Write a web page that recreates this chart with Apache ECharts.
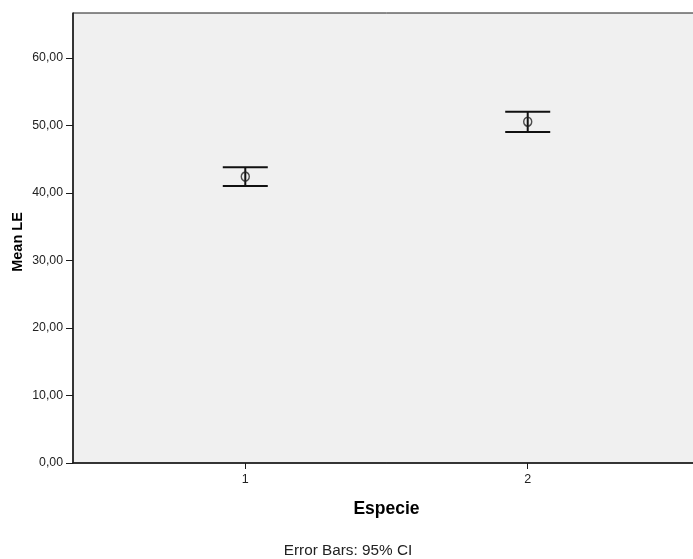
<!DOCTYPE html>
<html>
<head>
<meta charset="utf-8">
<script src="https://cdn.jsdelivr.net/npm/echarts@6/dist/echarts.min.js"></script>
<style>
  html, body { margin: 0; padding: 0; background: #fff; overflow: hidden; }
  #chart { width: 701px; height: 559px; }
</style>
</head>
<body>
<div id="chart"></div>
<script>
// Mean LE per species with 95% confidence intervals
const especie = [1, 2];
const meanLE = [42.42, 50.55];
const ciLower = [41.04, 49.01];
const ciUpper = [43.81, 52.03];
const yTicks = [0, 10, 20, 30, 40, 50, 60];

const chart = echarts.init(document.getElementById('chart'));

const barData = especie.map((e, i) => [e, ciLower[i], ciUpper[i]]);
const meanData = especie.map((e, i) => [e, meanLE[i]]);

const fmt = v => v.toFixed(2).replace('.', ',');
const font = 'Liberation Sans, Arial, sans-serif';

chart.setOption({
  animation: false,
  textStyle: { fontFamily: font },
  grid: {
    left: 73, top: 13, right: 1, bottom: 96,
    outerBoundsMode: 'none',
    show: true,
    backgroundColor: '#f0f0f0',
    borderColor: '#1a1a1a',
    borderWidth: 1
  },
  xAxis: {
    type: 'value',
    min: 0.39, max: 2.61,
    name: 'Especie',
    nameLocation: 'middle',
    nameGap: 37,
    nameTextStyle: { fontSize: 17.5, fontWeight: 'bold', color: '#000', fontFamily: font },
    splitLine: { show: false },
    axisLine: { lineStyle: { color: '#1a1a1a', width: 1.5 } },
    axisTick: { customValues: especie, length: 6, lineStyle: { color: '#1a1a1a' } },
    axisLabel: { customValues: especie, margin: 10, fontSize: 12.5, color: '#222', formatter: v => String(v) }
  },
  yAxis: {
    type: 'value',
    min: 0, max: 66.65,
    name: 'Mean LE',
    nameLocation: 'middle',
    nameGap: 48,
    nameMoveOverlap: false,
    nameTextStyle: { fontSize: 14.5, fontWeight: 'bold', color: '#000', fontFamily: font, padding: [0, 8, 0, 0] },
    splitLine: { show: false },
    axisLine: { lineStyle: { color: '#1a1a1a', width: 1.5 } },
    axisTick: { customValues: yTicks, length: 7, lineStyle: { color: '#1a1a1a' } },
    axisLabel: { customValues: yTicks, margin: 10, fontSize: 12.3, color: '#222', formatter: fmt }
  },
  graphic: [
    {
      type: 'text',
      x: 348, y: 551,
      style: {
        text: 'Error Bars: 95% CI',
        align: 'center', verticalAlign: 'middle',
        fontSize: 15.3, fontFamily: font, fill: '#222'
      }
    }
  ],
  series: [
    {
      type: 'custom',
      data: barData,
      renderItem: function (params, api) {
        const x = api.value(0);
        const lo = api.coord([x, api.value(1)]);
        const hi = api.coord([x, api.value(2)]);
        const half = 22.5;
        const style = { stroke: '#111', lineWidth: 2 };
        return {
          type: 'group',
          children: [
            { type: 'line', shape: { x1: lo[0], y1: lo[1], x2: hi[0], y2: hi[1] }, style },
            { type: 'line', shape: { x1: hi[0] - half, y1: hi[1], x2: hi[0] + half, y2: hi[1] }, style },
            { type: 'line', shape: { x1: lo[0] - half, y1: lo[1], x2: lo[0] + half, y2: lo[1] }, style }
          ]
        };
      },
      z: 2
    },
    {
      type: 'scatter',
      data: meanData,
      symbol: 'circle',
      symbolSize: [8, 9],
      itemStyle: { color: 'rgba(0,0,0,0)', borderColor: '#222', borderWidth: 1.5 },
      z: 3
    }
  ]
});
</script>
</body>
</html>
